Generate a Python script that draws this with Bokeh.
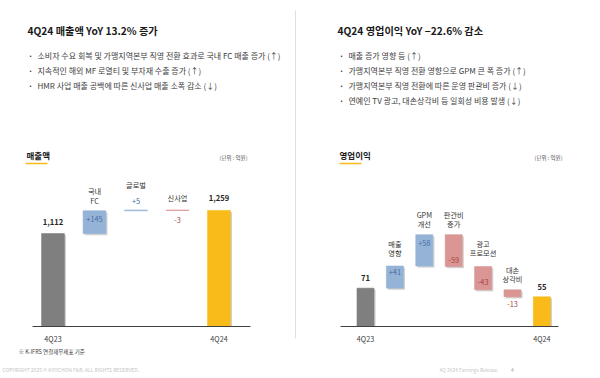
from bokeh.plotting import figure
from bokeh.models import Range1d, ColumnDataSource
from bokeh.core.properties import value
from bokeh.embed import file_html
from bokeh.resources import INLINE

FONT = "Noto Sans CJK KR"

# ---------------- data ----------------
left_title = "4Q24 매출액 YoY 13.2% 증가"
left_bullets = [
    "소비자 수요 회복 및 가맹지역본부 직영 전환 효과로 국내 FC 매출 증가 (↑)",
    "지속적인 해외 MF 로열티 및 부자재 수출 증가 (↑)",
    "HMR 사업 매출 공백에 따른 신사업 매출 소폭 감소 (↓)",
]
right_title = "4Q24 영업이익 YoY −22.6% 감소"
right_bullets = [
    "매출 증가 영향 등 (↑)",
    "가맹지역본부 직영 전환 영향으로 GPM 큰 폭 증가 (↑)",
    "가맹지역본부 직영 전환에 따른 운영 판관비 증가 (↓)",
    "연예인 TV 광고, 대손상각비 등 일회성 비용 발생 (↓)",
]

sales_categories = ["4Q23", "국내\nFC", "글로벌", "신사업", "4Q24"]
sales_values = [1112, 145, 5, -3, 1259]
sales_kinds = ["total", "delta", "delta", "delta", "total"]
sales_axis_labels = ["4Q23", "", "", "", "4Q24"]

op_categories = ["4Q23", "매출\n영향", "GPM\n개선", "판관비\n증가", "광고\n프로모션", "대손\n상각비", "4Q24"]
op_values = [71, 41, 58, -59, -43, -13, 55]
op_kinds = ["total", "delta", "delta", "delta", "delta", "delta", "total"]
op_axis_labels = ["4Q23", "", "", "", "", "", "4Q24"]

unit_label = "(단위 : 억원)"
footnote = "※ K-IFRS 연결재무제표 기준"
footer_left = "COPYRIGHT 2025 © KYOCHON F&B. ALL RIGHTS RESERVED."
footer_right = "4Q 2024 Earnings Release"
page_no = "4"

# ---------------- styles ----------------
C_TOTAL0 = "#7f7f7f"
C_TOTAL1 = "#f8bb1a"
C_UP = "#95b3d7"
C_DOWN = "#d99694"
C_UP_TXT = "#4a6fa5"
C_DOWN_TXT = "#a94442"
C_TXT = "#262626"

X0, Y0 = 0, 0
W, H = 600, 378
p = figure(width=W, height=H, output_backend="svg", toolbar_location=None,
           x_range=Range1d(X0, X0 + W), y_range=Range1d(Y0 + H, Y0),
           min_border=0, x_axis_location=None, y_axis_location=None)
p.grid.visible = False
p.outline_line_color = None
p.background_fill_color = "white"
p.border_fill_color = "white"


def txt(x, y, s, size, color=C_TXT, bold=False, align="left", baseline="middle", **kw):
    p.text(x=[x], y=[y], text=[s], text_font=value(FONT), text_font_size=value(size),
           text_color=color, text_font_style="bold" if bold else "normal",
           text_align=align, text_baseline=baseline, **kw)


# ---------------- header texts ----------------
txt(27, 30, left_title, "10.2px", "#1a1a1a", bold=True)
for i, b in enumerate(left_bullets):
    txt(29, 55 + 15 * i, "•", "6px", "#404040")
    txt(37, 55 + 15 * i, b, "8px", "#404040")
txt(337, 30, right_title, "10.2px", "#1a1a1a", bold=True)
for i, b in enumerate(right_bullets):
    txt(340, 55 + 15 * i, "•", "6px", "#404040")
    txt(348, 55 + 15 * i, b, "8px", "#404040")

# divider
p.segment(x0=[295], y0=[10], x1=[295], y1=[338], line_color="#e0e0e0", line_width=1)

# section headers
txt(26, 154, "매출액", "8.5px", "#1a1a1a", bold=True)
p.segment(x0=[25], y0=[163], x1=[47], y1=[163], line_color="#f8bb1a", line_width=1.6)
txt(247, 157, unit_label, "5.5px", "#595959", align="right")
txt(339, 154, "영업이익", "8.5px", "#1a1a1a", bold=True)
p.segment(x0=[339], y0=[163], x1=[361], y1=[163], line_color="#f8bb1a", line_width=1.6)
txt(562, 157, unit_label, "5.5px", "#595959", align="right")

# footnotes
txt(18, 351, footnote, "5.5px", "#404040")
txt(2, 369, footer_left, "5px", "#c4c4c4")
txt(497, 369, footer_right, "4.9px", "#c4c4c4", align="right")
txt(512, 369, page_no, "5px", "#a0a0a0", align="center")


# ---------------- waterfall helper ----------------
def waterfall(name, cats, vals, kinds, axis_labels, x_p0, x_k, base, y_p0, y_k, bar_w,
              name_off, line_gap, val_anchor, val_off, axis_x0, axis_x1):
    xr, yr = name + "_x", name + "_y"
    p.extra_x_ranges[xr] = Range1d((X0 - x_p0) / x_k, (X0 + W - x_p0) / x_k)
    p.extra_y_ranges[yr] = Range1d(base - (Y0 + H - y_p0) / y_k, base + (y_p0 - Y0) / y_k)

    idx = list(range(len(cats)))
    bottoms, tops, colors, labels, lcolors = [], [], [], [], []
    running = base
    for i, (v, k) in enumerate(zip(vals, kinds)):
        if k == "total":
            bottoms.append(base)
            tops.append(v)
            running = v
            colors.append(C_TOTAL0 if i == 0 else C_TOTAL1)
            labels.append(f"{v:,}")
            lcolors.append(C_TXT)
        else:
            new = running + v
            bottoms.append(min(running, new))
            tops.append(max(running, new))
            running = new
            colors.append(C_UP if v > 0 else C_DOWN)
            labels.append(f"+{v}" if v > 0 else f"-{abs(v)}")
            lcolors.append(C_UP_TXT if v > 0 else C_DOWN_TXT)

    # shadows
    dx = 1.6 / x_k
    dy = 1.6 / y_k
    sh = [i for i in idx if (tops[i] - bottoms[i]) * y_k >= 2]
    p.quad(left=[i - bar_w / 2 + dx for i in sh], right=[i + bar_w / 2 + dx for i in sh],
           top=[tops[i] - dy for i in sh], bottom=[max(bottoms[i] - dy, base) for i in sh],
           fill_color="#9a9a9a", fill_alpha=0.45, line_color=None,
           x_range_name=xr, y_range_name=yr)

    src = ColumnDataSource(dict(left=[i - bar_w / 2 for i in idx], right=[i + bar_w / 2 for i in idx],
                                top=tops, bottom=bottoms, color=colors))
    p.quad(left="left", right="right", top="top", bottom="bottom", fill_color="color",
           line_color="color", line_width=0.6, source=src, x_range_name=xr, y_range_name=yr)

    # baseline
    p.segment(x0=[axis_x0], y0=[y_p0], x1=[axis_x1], y1=[y_p0], line_color="#404040", line_width=1)

    # axis labels
    for i in idx:
        if axis_labels[i]:
            p.text(x=[i], y=[base], text=[axis_labels[i]], text_font=value(FONT),
                   text_font_size=value("7.2px"), text_color="#404040", text_align="center",
                   text_baseline="middle", y_offset=12, x_range_name=xr, y_range_name=yr)

    # names
    for i in idx:
        if name_off[i] is None:
            continue
        lines = cats[i].split("\n")
        m = len(lines)
        for j, ln in enumerate(lines):
            p.text(x=[i], y=[tops[i]], text=[ln], text_font=value(FONT),
                   text_font_size=value("7.2px"), text_color="#333333", text_align="center",
                   text_baseline="middle", y_offset=name_off[i] - (m - 1 - j) * line_gap,
                   x_range_name=xr, y_range_name=yr)

    # values
    for i in idx:
        yv = tops[i] if val_anchor[i] == "top" else bottoms[i]
        p.text(x=[i], y=[yv], text=[labels[i]], text_font=value(FONT),
               text_font_size=value("7.6px" if kinds[i] == "total" else "7.4px"),
               text_color=lcolors[i], text_font_style="bold" if kinds[i] == "total" else "normal",
               text_align="center", text_baseline="middle", y_offset=val_off[i],
               x_range_name=xr, y_range_name=yr)


waterfall("sales", sales_categories, sales_values, sales_kinds, sales_axis_labels,
          x_p0=52.5, x_k=41.5, base=520, y_p0=326, y_k=0.157, bar_w=0.55,
          name_off=[None, -10, -25, -12, None], line_gap=9.5,
          val_anchor=["top", "top", "top", "top", "top"],
          val_off=[-12, 8, -9, 10, -12], axis_x0=32, axis_x1=250)

waterfall("op", op_categories, op_values, op_kinds, op_axis_labels,
          x_p0=365, x_k=29.4, base=0, y_p0=326, y_k=0.54, bar_w=0.58,
          name_off=[None, -13, -11, -11, -14, -11, None], line_gap=8.7,
          val_anchor=["top", "top", "top", "bottom", "bottom", "bottom", "top"],
          val_off=[-10, 6, 8, -7, -8, 7, -10], axis_x0=340, axis_x1=558)

open("out.html", "w").write(file_html(p, INLINE))
